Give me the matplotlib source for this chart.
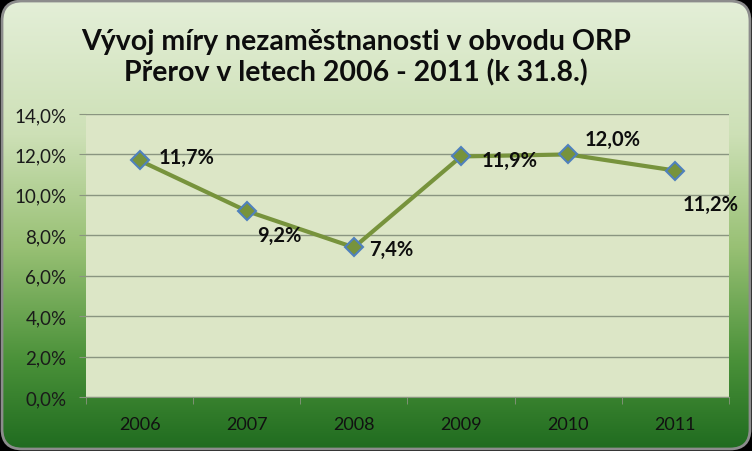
import numpy as np
import matplotlib
matplotlib.use('Agg')
import matplotlib.pyplot as plt
from matplotlib.patches import FancyBboxPatch
from matplotlib.colors import LinearSegmentedColormap
from matplotlib.ticker import FuncFormatter, MultipleLocator

plt.rcParams['font.family'] = ['Lato', 'DejaVu Sans']

years = ['2006', '2007', '2008', '2009', '2010', '2011']
rates = [11.7, 9.2, 7.4, 11.9, 12.0, 11.2]
labels = ['11,7%', '9,2%', '7,4%', '11,9%', '12,0%', '11,2%']
title = 'Vývoj míry nezaměstnanosti v obvodu ORP\nPřerov v letech 2006 - 2011 (k 31.8.)'

# posunutí popisků (px)
offsets = [(19, 4), (10, -24), (15, -2), (21, -4), (16, 15), (7, -33)]

W, H = 752, 452
fig = plt.figure(figsize=(W / 100, H / 100), dpi=100)
fig.patch.set_facecolor('black')

# pozadí s přechodem
bg = fig.add_axes([0, 0, 1, 1])
bg.set_xlim(0, W)
bg.set_ylim(0, H)
bg.axis('off')
cmap = LinearSegmentedColormap.from_list('g', [
    (0.0, '#e4efd8'), (0.3, '#cde0b6'), (0.55, '#98c074'),
    (0.8, '#4a9139'), (1.0, '#1f6b1f')])
grad = np.linspace(0, 1, 256).reshape(-1, 1)
im = bg.imshow(grad, cmap=cmap, aspect='auto', extent=[0, W, 0, H], origin='upper')
box = FancyBboxPatch((2, 2), W - 4, H - 4, boxstyle='round,pad=0,rounding_size=20',
                     facecolor='none', edgecolor='#8c8c8c', lw=2)
bg.add_patch(box)
im.set_clip_path(box)

ax = fig.add_axes([86 / W, 1 - 398 / H, (729 - 86) / W, (398 - 115) / H])
ax.set_facecolor('#dce6c6')
x = np.arange(len(years))
ax.plot(x, rates, color='#77933c', lw=3, marker='D', markersize=9.5,
        markerfacecolor='#77933c', markeredgecolor='#4f81bd', markeredgewidth=1.5,
        zorder=3)
for xi, yi, lab, (dx, dy) in zip(x, rates, labels, offsets):
    ax.annotate(lab, (xi, yi), xytext=(dx * 0.72, dy * 0.72), textcoords='offset points',
                ha='left', va='center', fontsize=14.5, fontweight='bold', color='#0d0d0d')

ax.set_xlim(-0.5, len(years) - 0.5)
ax.set_ylim(0, 14)
ax.yaxis.set_major_locator(MultipleLocator(2))
ax.yaxis.set_major_formatter(FuncFormatter(lambda v, p: ('%.1f%%' % v).replace('.', ',')))
ax.grid(axis='y', color='#8a9580', lw=1)
ax.set_axisbelow(True)
for s in ['top', 'right', 'left']:
    ax.spines[s].set_visible(False)
ax.spines['bottom'].set_color('#8a9580')
ax.set_xticks(x)
ax.set_xticklabels(years)
ax.set_xticks(np.arange(-0.5, len(years)), minor=True)
ax.tick_params(axis='x', which='major', length=0, pad=14, labelsize=13, labelcolor='#111111')
ax.tick_params(axis='x', which='minor', length=5, color='#8a9580', direction='out')
ax.tick_params(axis='y', length=5, color='#8a9580', labelsize=13.5, labelcolor='#1a1a1a', pad=9)

fig.text(356 / W, 1 - 58 / H, title, ha='center', va='center', fontsize=20.5,
         fontweight='bold', color='#0d0d0d', linespacing=1.2)

fig.savefig('out.png', dpi=100, facecolor=fig.get_facecolor())
